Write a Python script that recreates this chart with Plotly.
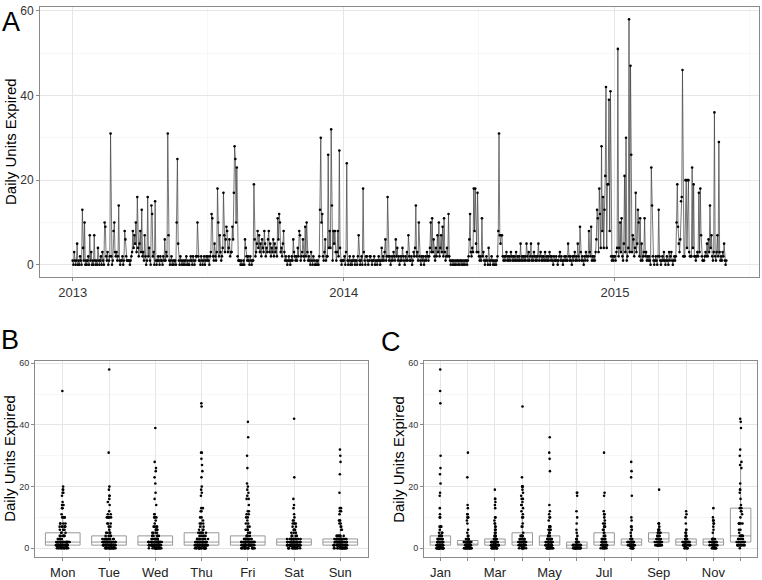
import pandas as pd
import plotly.graph_objects as go

# ---------------- data (daily units expired) ----------------
units_2013 = [
    # Jan
    1, 0, 3, 1, 0, 1, 5, 0, 1, 0, 2, 1, 0, 13, 4, 1, 10, 0, 1, 0, 1, 2, 0, 7, 1, 3, 0, 1, 0, 7, 1,
    # Feb
    0, 1, 0, 4, 1, 0, 1, 2, 0, 3, 1, 0, 10, 9, 2, 1, 3, 0, 1, 2, 31, 2, 0, 1, 8, 10, 3, 2,
    # Mar
    3, 1, 2, 14, 1, 0, 1, 1, 2, 0, 1, 8, 6, 2, 1, 1, 1, 1, 0, 1, 2, 3, 8, 4, 7, 5, 10, 3, 16, 4, 2,
    # Apr
    5, 8, 3, 13, 2, 3, 1, 7, 2, 0, 1, 16, 2, 4, 1, 0, 14, 12, 2, 3, 0, 15, 1, 0, 1, 2, 1, 0, 2, 1,
    # May
    1, 0, 2, 1, 6, 1, 3, 2, 31, 7, 1, 0, 1, 2, 0, 1, 0, 1, 1, 0, 10, 25, 5, 1, 0, 2, 1, 0, 1, 0, 1,
    # Jun
    0, 1, 2, 0, 1, 0, 0, 1, 2, 1, 0, 2, 1, 0, 1, 2, 2, 10, 2, 1, 1, 0, 2, 1, 0, 1, 2, 0, 1, 2,
    # Jul
    1, 2, 1, 0, 2, 3, 12, 11, 2, 1, 5, 2, 1, 3, 18, 10, 2, 7, 3, 1, 2, 4, 17, 7, 3, 6, 9, 8, 3, 4, 6,
    # Aug
    2, 3, 3, 9, 6, 17, 28, 25, 10, 23, 2, 1, 1, 1, 0, 1, 0, 0, 1, 0, 6, 4, 2, 1, 2, 1, 0, 2, 1, 0, 1,
    # Sep
    1, 19, 6, 2, 3, 5, 8, 4, 7, 3, 5, 2, 6, 4, 3, 8, 5, 2, 4, 3, 6, 8, 3, 5, 2, 4, 3, 6, 2, 5,
    # Oct
    3, 4, 2, 11, 6, 12, 10, 3, 4, 2, 5, 8, 3, 1, 2, 1, 0, 1, 2, 1, 0, 1, 2, 1, 6, 3, 2, 1, 2, 1, 4,
    # Nov
    2, 8, 7, 1, 2, 3, 6, 2, 1, 9, 2, 10, 3, 1, 2, 1, 0, 3, 1, 0, 2, 1, 0, 0, 1, 0, 1, 0, 2, 13,
    # Dec
    30, 10, 12, 2, 1, 3, 6, 1, 2, 2, 26, 4, 8, 4, 32, 14, 1, 8, 5, 8, 3, 1, 3, 8, 2, 27, 4, 1, 0, 1, 1,
]

units_2014 = [
    # Jan
    1, 2, 0, 3, 24, 1, 0, 1, 2, 0, 1, 0, 1, 2, 1, 0, 1, 1, 0, 2, 7, 1, 0, 1, 2, 0, 18, 3, 1, 0, 2,
    # Feb
    2, 1, 0, 1, 2, 2, 1, 0, 1, 1, 2, 0, 1, 1, 0, 1, 2, 1, 0, 1, 4, 1, 2, 1, 3, 6, 1, 2,
    # Mar
    16, 2, 1, 2, 0, 1, 2, 1, 3, 2, 1, 6, 2, 4, 1, 2, 0, 1, 2, 1, 4, 2, 1, 0, 2, 1, 3, 1, 7, 2, 1,
    # Apr
    1, 2, 0, 1, 3, 2, 4, 14, 2, 3, 1, 10, 2, 1, 0, 2, 1, 2, 0, 1, 2, 1, 3, 2, 1, 2, 4, 10, 3, 11,
    # May
    3, 6, 2, 1, 4, 2, 7, 3, 10, 2, 4, 7, 3, 9, 2, 11, 3, 1, 2, 4, 2, 12, 2, 1, 0, 1, 1, 0, 1, 0, 1,
    # Jun
    0, 1, 1, 0, 1, 0, 1, 1, 0, 1, 0, 1, 0, 1, 1, 0, 1, 2, 6, 12, 3, 2, 4, 3, 18, 8, 18, 5, 3, 17,
    # Jul
    3, 2, 1, 2, 1, 11, 2, 3, 1, 0, 1, 2, 1, 0, 4, 1, 0, 1, 2, 1, 0, 1, 0, 1, 0, 1, 2, 8, 31, 7, 5,
    # Aug
    7, 7, 2, 1, 2, 1, 2, 3, 1, 2, 1, 2, 1, 3, 2, 1, 2, 1, 2, 1, 3, 1, 2, 1, 2, 1, 5, 1, 2, 1, 2,
    # Sep
    1, 2, 1, 5, 2, 1, 3, 1, 2, 5, 1, 2, 1, 3, 2, 1, 2, 1, 2, 5, 1, 2, 3, 1, 2, 1, 2, 1, 3, 1,
    # Oct
    2, 1, 2, 1, 3, 2, 1, 2, 1, 0, 2, 1, 1, 2, 1, 0, 1, 2, 3, 1, 2, 1, 0, 1, 2, 1, 2, 1, 1, 5, 2,
    # Nov
    1, 2, 1, 0, 2, 1, 2, 3, 1, 2, 1, 5, 2, 1, 9, 3, 1, 2, 1, 0, 2, 1, 3, 2, 1, 2, 8, 3, 2, 9,
    # Dec
    1, 2, 1, 2, 1, 3, 6, 13, 11, 3, 18, 12, 4, 28, 8, 16, 4, 13, 21, 42, 4, 19, 19, 39, 8, 41, 2, 1, 2, 1, 2,
]

units_2015 = [
    # Jan
    2, 1, 3, 4, 51, 2, 4, 10, 3, 11, 2, 1, 5, 21, 3, 30, 1, 2, 4, 58, 3, 47, 26, 3, 7, 6, 2, 4, 17, 3, 5,
    # Feb
    13, 10, 2, 11, 1, 5, 1, 2, 3, 11, 2, 3, 1, 2, 1, 2, 1, 0, 23, 14, 2, 1, 0, 1, 2, 1, 0, 2,
    # Mar
    13, 2, 1, 0, 1, 2, 1, 3, 1, 0, 1, 2, 1, 0, 3, 1, 2, 3, 1, 0, 1, 2, 1, 2, 10, 19, 9, 5, 3, 6, 15,
    # Apr
    16, 46, 2, 2, 2, 20, 20, 4, 20, 20, 3, 2, 2, 2, 23, 4, 19, 2, 2, 1, 2, 3, 2, 17, 3, 18, 7, 2, 1, 1,
    # May
    1, 2, 3, 2, 5, 2, 6, 3, 14, 4, 7, 2, 1, 3, 36, 2, 1, 3, 7, 2, 29, 3, 1, 2, 1, 3, 2, 5, 1, 0, 1,
]

start_date = "2013-01-01"
year_labels = ["2013", "2014", "2015"]
weekday_labels = ["Mon", "Tue", "Wed", "Thu", "Fri", "Sat", "Sun"]
month_labels = ["Jan", "Feb", "Mar", "Apr", "May", "Jun",
                "Jul", "Aug", "Sep", "Oct", "Nov", "Dec"]
month_ticktext = ["Jan", "", "Mar", "", "May", "", "Jul", "", "Sep", "", "Nov", ""]
y_major = [0, 20, 40, 60]
y_minor = [10, 30, 50]
y_title = "Daily Units Expired"

# ---------------- frame ----------------
values = units_2013 + units_2014 + units_2015
dates = pd.date_range(start_date, periods=len(values), freq="D")
df = pd.DataFrame({"date": dates, "units": values})
df["wday"] = [weekday_labels[d.weekday()] for d in df["date"]]
df["month"] = [month_labels[d.month - 1] for d in df["date"]]

ymax = max(values)
ypad = 0.05 * ymax
yrange = [-ypad, ymax + ypad]
span = dates[-1] - dates[0]
xrange_a = [dates[0] - span * 0.05, dates[-1] + span * 0.05]

W, H = 762, 580
FONT = "Liberation Sans, Arial, Helvetica, sans-serif"
BORDER = "#8a8a8a"
GRID = "#e6e6e6"
GRID_MINOR = "#f1f1f1"
TICKTXT = "#333333"


def px_x(a, b):
    return [a / W, b / W]


def px_y(top, bottom):
    return [1 - bottom / H, 1 - top / H]


def base_axis(**kw):
    d = dict(showline=True, mirror=True, linecolor=BORDER, linewidth=1,
             ticks="outside", ticklen=3, tickwidth=1, tickcolor=BORDER,
             showgrid=True, gridcolor=GRID, gridwidth=1, zeroline=False,
             tickfont=dict(family=FONT, size=12, color=TICKTXT))
    d.update(kw)
    return d


fig = go.Figure()

# Panel A: time series
fig.add_trace(go.Scatter(
    x=df["date"], y=df["units"], mode="lines+markers",
    line=dict(color="#3c3c3c", width=0.7),
    marker=dict(color="black", size=2.6),
    xaxis="x", yaxis="y", showlegend=False, hoverinfo="skip"))

box_common = dict(boxpoints="all", jitter=0.4, pointpos=0, width=0.75,
                  fillcolor="rgba(255,255,255,0)",
                  line=dict(color="#8c8c8c", width=0.9),
                  marker=dict(color="black", size=2.6),
                  whiskerwidth=0, showlegend=False, hoverinfo="skip",
                  quartilemethod="linear")

# Panel B: by weekday
fig.add_trace(go.Box(x=df["wday"], y=df["units"], xaxis="x2", yaxis="y2", **box_common))
# Panel C: by month
fig.add_trace(go.Box(x=df["month"], y=df["units"], xaxis="x3", yaxis="y3", **box_common))

minor_a = [f"{y}-07-01" for y in year_labels]
fig.update_layout(
    width=W, height=H, margin=dict(l=0, r=0, t=0, b=0),
    paper_bgcolor="white", plot_bgcolor="white",
    font=dict(family=FONT, color="black"),
    boxgap=0.25, showlegend=False,
    xaxis=base_axis(domain=px_x(40, 759), anchor="y", type="date", range=xrange_a,
                    tickvals=[f"{y}-01-01" for y in year_labels], ticktext=year_labels,
                    tickfont=dict(family=FONT, size=13, color=TICKTXT),
                    minor=dict(tickvals=minor_a, showgrid=True, gridcolor=GRID_MINOR,
                               gridwidth=0.6, ticks="")),
    yaxis=base_axis(domain=px_y(4, 276), anchor="x", range=yrange, tickvals=y_major,
                    minor=dict(tickvals=y_minor, showgrid=True, gridcolor=GRID_MINOR,
                               gridwidth=0.6, ticks="")),
    xaxis2=base_axis(domain=px_x(35, 368), anchor="y2", type="category",
                     categoryorder="array", categoryarray=weekday_labels,
                     range=[-0.6, len(weekday_labels) - 0.4],
                     tickfont=dict(family=FONT, size=13, color="#222222")),
    yaxis2=base_axis(domain=px_y(360, 558), anchor="x2", range=yrange, tickvals=y_major,
                     tickfont=dict(family=FONT, size=9, color=TICKTXT),
                     minor=dict(tickvals=y_minor, showgrid=True, gridcolor=GRID_MINOR,
                                gridwidth=0.6, ticks="")),
    xaxis3=base_axis(domain=px_x(424, 757), anchor="y3", type="category",
                     categoryorder="array", categoryarray=month_labels,
                     range=[-0.6, len(month_labels) - 0.4],
                     tickmode="array", tickvals=month_labels, ticktext=month_ticktext,
                     tickfont=dict(family=FONT, size=13, color="#222222")),
    yaxis3=base_axis(domain=px_y(360, 558), anchor="x3", range=yrange, tickvals=y_major,
                     tickfont=dict(family=FONT, size=9, color=TICKTXT),
                     minor=dict(tickvals=y_minor, showgrid=True, gridcolor=GRID_MINOR,
                                gridwidth=0.6, ticks="")),
)

ann = []
for letter, cx, cy in [("A", 11, 19), ("B", 10, 339), ("C", 391, 341)]:
    ann.append(dict(text=letter, x=cx / W, y=1 - cy / H, xref="paper", yref="paper",
                    xanchor="center", yanchor="middle", showarrow=False,
                    font=dict(family=FONT, size=27, color="black")))
for cx, cy in [(10, 140), (10, 459), (399, 459)]:
    ann.append(dict(text=y_title, x=cx / W, y=1 - cy / H, xref="paper", yref="paper",
                    xanchor="center", yanchor="middle", showarrow=False, textangle=-90,
                    font=dict(family=FONT, size=15, color="black")))
fig.update_layout(annotations=ann)

fig.write_html(
    "out.html",
    config={"displayModeBar": False, "staticPlot": True},
    post_script="document.body.style.margin='0';document.body.style.padding='0';"
                "document.body.style.overflow='hidden';",
)
